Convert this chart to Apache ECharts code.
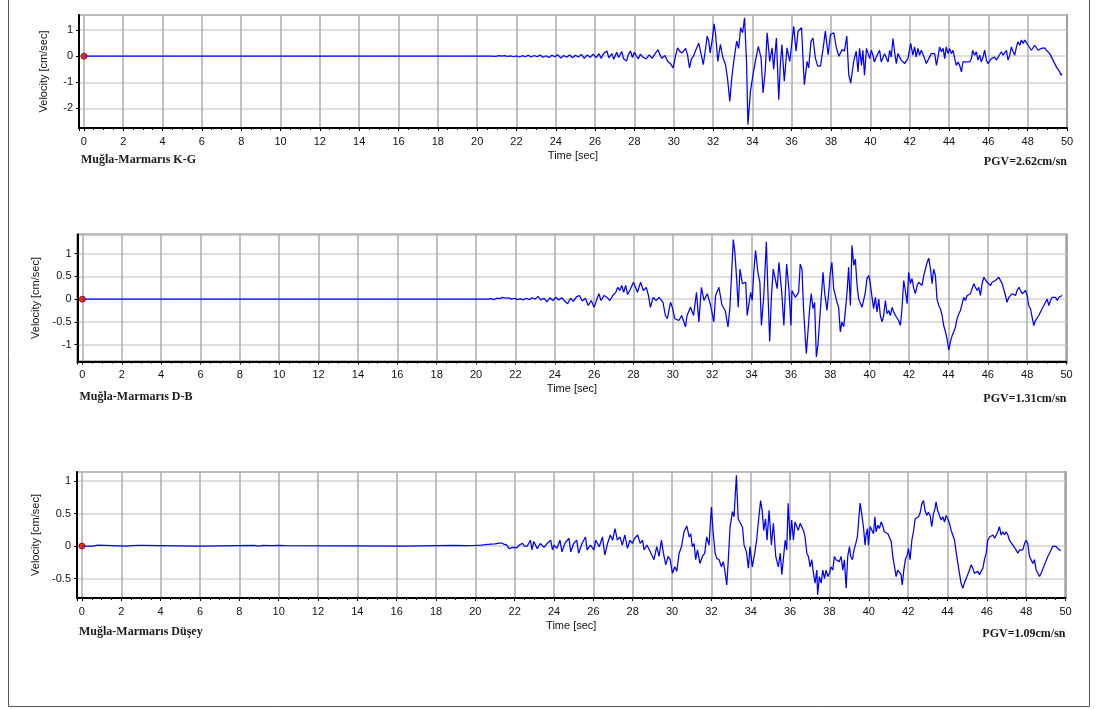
<!DOCTYPE html>
<html>
<head>
<meta charset="utf-8">
<title>Muğla-Marmarıs velocity records</title>
<script src="https://cdn.jsdelivr.net/npm/echarts@6/dist/echarts.min.js"></script>
<style>
  html, body { margin: 0; padding: 0; background: #ffffff; }
  #chart { width: 1097px; height: 709px; }
</style>
</head>
<body>
<div id="chart"></div>
<script>
// Station labels and peak ground velocities
const stationNames = ['Muğla-Marmarıs K-G', 'Muğla-Marmarıs D-B', 'Muğla-Marmarıs Düşey'];
const pgvLabels = ['PGV=2.62cm/sn', 'PGV=1.31cm/sn', 'PGV=1.09cm/sn'];
const xAxisTitle = 'Time [sec]';
const yAxisTitle = 'Velocity [cm/sec]';

// Velocity traces, [time (s), velocity (cm/s)]
const traceKG = [
  [0,0],[20.7,0],[20.8,0.01],[20.95,-0.01],[21.1,0.02],[21.25,0],[21.4,0.02],[21.55,-0.01],[21.7,0.01],[21.85,-0.02],
  [22.0,0.01],[22.15,-0.03],[22.3,0.02],[22.45,-0.02],[22.6,0.04],[22.75,-0.03],[22.9,0.03],[23.05,-0.02],[23.2,0.05],[23.35,-0.04],
  [23.5,0.02],[23.65,-0.05],[23.8,0.04],[23.95,-0.02],[24.1,0.06],[24.25,-0.07],[24.4,0.03],[24.55,-0.04],[24.7,0.05],[24.85,-0.06],
  [25.0,0.04],[25.15,-0.03],[25.3,0.07],[25.45,-0.08],[25.6,0.05],[25.75,-0.04],[25.9,0.08],[26.05,-0.05],[26.2,0.1],[26.3,-0.08],
  [26.45,0.12],[26.6,0.2],[26.7,-0.06],[26.85,0.1],[26.95,-0.12],[27.1,0.15],[27.2,-0.05],[27.35,0.18],[27.45,-0.1],[27.6,-0.18],
  [27.7,0.08],[27.8,0.2],[27.9,-0.05],[28.0,0.15],[28.1,0.02],[28.2,-0.1],[28.3,0.08],[28.45,-0.05],[28.6,-0.1],[28.75,0.05],
  [28.9,-0.08],[29.05,0.1],[29.2,0.25],[29.3,0.05],[29.4,-0.08],[29.55,0.03],[29.7,-0.2],[29.85,-0.3],[29.97,-0.45],[30.1,0.05],
  [30.2,0.32],[30.3,0.2],[30.4,0.12],[30.5,0.2],[30.6,0.3],[30.7,0.05],[30.8,-0.45],[30.9,-0.1],[31.0,0.0],[31.1,0.2],
  [31.27,0.5],[31.4,0.05],[31.5,-0.32],[31.6,0.2],[31.7,0.77],[31.78,0.58],[31.85,0.13],[31.95,0.6],[32.05,1.24],[32.12,0.9],
  [32.24,-0.2],[32.37,0.45],[32.5,-0.06],[32.63,-0.32],[32.73,-0.83],[32.85,-1.73],[32.95,-0.83],[33.05,-0.2],[33.2,0.58],[33.3,0.3],
  [33.4,1.09],[33.5,0.9],[33.6,1.47],[33.7,-0.2],[33.77,-2.62],[33.9,-1.35],[34.03,-0.7],[34.15,-0.2],[34.3,0.38],[34.44,-0.06],
  [34.54,-1.41],[34.65,-0.58],[34.75,0.9],[34.88,-0.2],[35.0,0.32],[35.08,-0.5],[35.22,0.7],[35.34,-1.67],[35.42,-0.32],[35.5,0.45],
  [35.62,-0.96],[35.76,0.32],[35.9,-0.2],[36.0,-0.26],[36.1,1.15],[36.22,0.19],[36.32,0.96],[36.5,1.09],[36.58,-0.2],[36.64,-1.09],
  [36.78,-0.2],[36.86,-0.45],[36.98,0.58],[37.08,0.7],[37.2,-0.06],[37.32,-0.38],[37.46,-0.38],[37.6,0.32],[37.71,0.96],[37.85,0.06],
  [37.97,0.83],[38.14,0.9],[38.27,0.32],[38.4,0.0],[38.56,0.26],[38.68,0.19],[38.8,0.77],[38.9,-0.71],[39.0,-1.03],[39.15,-0.2],
  [39.28,0.19],[39.37,-0.6],[39.45,0.3],[39.55,-0.35],[39.62,0.23],[39.7,-0.73],[39.8,0.3],[39.9,0.23],[39.97,-0.09],[40.05,0.23],
  [40.13,0.04],[40.2,-0.22],[40.3,-0.03],[40.38,-0.09],[40.47,0.23],[40.55,-0.22],[40.64,-0.15],[40.72,0.1],[40.8,0.17],[40.9,-0.22],
  [40.98,0.23],[41.06,-0.03],[41.15,0.68],[41.23,0.17],[41.32,-0.28],[41.4,0.1],[41.49,-0.03],[41.57,-0.15],[41.66,-0.09],[41.74,-0.28],
  [41.83,-0.22],[41.91,-0.09],[42.0,-0.15],[42.05,0.49],[42.16,0.04],[42.25,0.36],[42.33,-0.03],[42.42,0.3],[42.5,0.04],[42.59,0.23],
  [42.76,-0.09],[42.84,-0.28],[42.93,-0.15],[43.01,-0.09],[43.1,0.1],[43.18,0.04],[43.27,0.1],[43.36,-0.35],[43.44,-0.03],[43.52,0.36],
  [43.61,0.17],[43.7,0.3],[43.78,-0.09],[43.86,0.36],[43.95,0.1],[44.03,0.3],[44.12,0.1],[44.2,0.23],[44.29,-0.09],[44.37,-0.35],
  [44.46,-0.22],[44.54,-0.35],[44.63,-0.6],[44.71,-0.22],[44.8,-0.28],[44.88,-0.22],[44.97,-0.15],[45.05,-0.22],[45.14,-0.09],[45.2,0.23],
  [45.3,0.04],[45.39,0.17],[45.47,-0.15],[45.56,0.04],[45.64,-0.22],[45.73,-0.03],[45.81,0.23],[45.9,-0.15],[45.98,-0.28],[46.07,-0.22],
  [46.15,-0.09],[46.24,-0.15],[46.32,-0.03],[46.41,-0.15],[46.5,-0.03],[46.58,-0.09],[46.66,0.17],[46.75,0.04],[46.83,-0.03],[46.92,0.23],
  [47.0,-0.15],[47.09,0.04],[47.17,0.36],[47.26,0.17],[47.34,0.04],[47.43,0.36],[47.5,0.55],[47.6,0.42],[47.68,0.62],[47.77,0.49],
  [47.85,0.62],[47.93,0.65],[48.02,0.42],[48.1,0.49],[48.19,0.23],[48.27,0.3],[48.36,0.42],[48.44,0.36],[48.53,0.23],[48.61,0.17],
  [48.7,0.3],[48.78,0.36],[48.86,0.32],[48.95,0.23],[49.03,0.17],[49.12,0.1],[49.2,0.04],[49.29,-0.15],[49.37,-0.22],[49.46,-0.41],
  [49.54,-0.47],[49.63,-0.6],[49.7,-0.73],[49.75,-0.67]
];

const traceDB = [
  [0,0],[20.6,0],[20.75,0.01],[20.9,-0.01],[21.05,0.02],[21.2,0.01],[21.35,0.04],[21.5,0.02],[21.65,0.03],[21.8,0.0],
  [21.95,0.02],[22.1,-0.01],[22.25,0.01],[22.4,-0.02],[22.55,0.02],[22.7,-0.01],[22.85,0.03],[23.0,0.0],[23.15,0.06],[23.3,-0.02],
  [23.45,0.02],[23.6,-0.06],[23.75,0.03],[23.9,-0.03],[24.05,0.04],[24.2,-0.02],[24.35,0.03],[24.5,-0.04],[24.65,-0.1],[24.8,0.02],
  [24.95,-0.05],[25.1,0.05],[25.25,0.08],[25.4,-0.04],[25.55,0.02],[25.7,-0.14],[25.85,-0.03],[26.0,-0.18],[26.1,-0.05],[26.24,0.12],
  [26.35,-0.03],[26.5,0.08],[26.65,0.04],[26.8,-0.03],[26.95,0.08],[27.1,0.15],[27.2,0.26],[27.3,0.19],[27.4,0.3],[27.5,0.15],
  [27.6,0.3],[27.7,0.1],[27.82,0.2],[28.0,0.37],[28.1,0.26],[28.2,0.15],[28.36,0.37],[28.5,0.19],[28.65,0.26],[28.75,0.1],
  [28.86,-0.18],[29.0,0.04],[29.15,-0.03],[29.3,0.04],[29.5,-0.07],[29.62,-0.36],[29.72,-0.43],[29.88,-0.07],[29.97,-0.18],[30.1,-0.43],
  [30.3,-0.47],[30.45,-0.36],[30.64,-0.61],[30.72,-0.36],[30.9,-0.18],[31.05,-0.36],[31.2,0.15],[31.32,-0.5],[31.45,0.26],[31.58,-0.03],
  [31.75,0.12],[31.92,-0.14],[32.08,-0.5],[32.17,0.08],[32.34,0.26],[32.5,-0.14],[32.66,-0.25],[32.8,-0.61],[32.9,-0.18],[32.98,-0.14],
  [33.07,1.31],[33.15,1.03],[33.24,0.45],[33.32,-0.18],[33.41,0.66],[33.53,0.34],[33.7,0.37],[33.78,-0.36],[33.95,0.15],[34.03,-0.03],
  [34.11,0.59],[34.2,1.07],[34.32,0.59],[34.42,0.37],[34.5,-0.58],[34.62,0.08],[34.75,1.26],[34.83,0.15],[34.92,-0.93],[35.0,0.0],
  [35.1,0.66],[35.3,0.23],[35.39,0.81],[35.53,0.15],[35.64,-0.58],[35.78,0.77],[35.9,0.19],[36.0,-0.58],[36.05,0.19],[36.22,0.04],
  [36.39,0.15],[36.47,0.77],[36.56,0.66],[36.64,-0.21],[36.73,-0.87],[36.78,-1.2],[36.85,-0.8],[36.95,-0.21],[37.03,0.12],[37.12,-0.21],
  [37.2,-0.07],[37.29,-1.27],[37.37,-1.01],[37.46,-0.98],[37.54,0.04],[37.63,0.59],[37.71,0.15],[37.83,-0.25],[37.92,0.15],[38.0,0.59],
  [38.08,0.81],[38.17,0.23],[38.25,0.19],[38.34,-0.07],[38.42,-0.18],[38.51,-0.72],[38.59,-0.5],[38.68,-0.61],[38.76,-0.28],[38.85,0.15],
  [38.93,0.7],[39.02,-0.14],[39.1,1.18],[39.19,0.74],[39.27,0.88],[39.36,0.3],[39.44,0.0],[39.53,0.04],[39.61,-0.18],[39.69,-0.18],
  [39.78,0.15],[39.86,0.45],[39.95,0.52],[40.03,0.34],[40.12,0.04],[40.2,-0.21],[40.29,0.04],[40.37,-0.28],[40.46,0.0],[40.54,-0.36],
  [40.63,-0.5],[40.71,-0.36],[40.8,-0.03],[40.88,-0.32],[40.97,-0.25],[41.05,-0.36],[41.14,-0.18],[41.22,-0.28],[41.31,-0.36],[41.39,-0.39],
  [41.47,-0.47],[41.56,-0.58],[41.64,-0.21],[41.73,0.41],[41.81,0.19],[41.9,-0.1],[41.98,0.59],[42.07,0.34],[42.15,0.45],[42.24,0.23],
  [42.32,0.12],[42.41,0.3],[42.49,0.37],[42.58,0.41],[42.66,0.3],[42.75,0.52],[42.83,0.55],[42.92,0.81],[43.0,0.9],[43.09,0.66],
  [43.17,0.34],[43.25,0.66],[43.34,0.52],[43.42,0.0],[43.51,-0.14],[43.59,-0.21],[43.68,-0.36],[43.76,-0.58],[43.85,-0.72],[43.93,-0.87],
  [44.02,-1.12],[44.1,-0.94],[44.19,-0.8],[44.27,-0.72],[44.36,-0.61],[44.44,-0.43],[44.53,-0.32],[44.61,-0.25],[44.69,-0.28],[44.78,0.04],
  [44.86,-0.03],[44.95,0.08],[45.03,0.04],[45.12,0.12],[45.2,0.12],[45.29,0.34],[45.37,0.26],[45.46,0.19],[45.54,0.26],[45.63,0.08],
  [45.71,0.34],[45.8,0.48],[45.88,0.52],[45.97,0.37],[46.05,0.37],[46.14,0.3],[46.22,0.37],[46.31,0.34],[46.39,0.41],[46.47,0.41],
  [46.56,0.48],[46.64,0.45],[46.73,0.34],[46.81,0.3],[46.9,0.08],[46.98,-0.07],[47.07,0.04],[47.15,0.0],[47.24,0.12],[47.32,0.08],
  [47.41,0.08],[47.49,0.19],[47.58,0.26],[47.66,0.19],[47.75,0.12],[47.83,0.15],[47.92,0.19],[48.0,0.08],[48.08,-0.14],[48.17,-0.21],
  [48.25,-0.39],[48.34,-0.58],[48.42,-0.47],[48.51,-0.43],[48.59,-0.36],[48.68,-0.32],[48.76,-0.21],[48.85,-0.14],[48.93,-0.07],[49.02,0.0],
  [49.1,-0.14],[49.19,-0.03],[49.27,0.04],[49.36,0.0],[49.44,0.04],[49.53,-0.03],[49.61,0.04],[49.69,0.04],[49.78,0.08]
];

const traceUD = [
  [0,0],[0.55,0],[0.6,0.015],[0.8,0.015],[0.85,0],[2.3,0],[2.35,0.012],[2.5,0.005],[2.6,0.015],[2.9,0.01],
  [3.05,0.012],[3.1,0],[5.85,0],[5.9,-0.01],[6.0,0],[6.1,0.01],[8.75,0.012],[8.8,-0.005],[9.0,0],[9.2,0.01],
  [9.6,0.005],[10.0,0.01],[10.3,0.005],[10.4,0],[16.5,0],[16.6,0.01],[18.0,0.008],[18.9,0.012],[19.5,0.005],[20.0,0.01],
  [20.3,0.015],[20.5,0.02],[20.8,0.03],[21.0,0.035],[21.3,0.05],[21.45,0.03],[21.6,0.015],[21.7,-0.04],[21.8,-0.06],[21.9,-0.02],
  [22.0,0.0],[22.1,-0.03],[22.25,0.02],[22.4,0.04],[22.5,0.0],[22.64,0.0],[22.8,0.09],[22.88,-0.06],[22.97,0.07],[23.15,-0.04],
  [23.3,0.04],[23.5,-0.02],[23.65,0.04],[23.83,0.09],[23.92,-0.06],[24.0,0.015],[24.15,-0.035],[24.3,0.09],[24.4,-0.09],[24.55,0.04],
  [24.76,0.12],[24.85,-0.09],[25.0,0.04],[25.15,0.09],[25.25,-0.11],[25.42,0.04],[25.6,0.14],[25.68,-0.06],[25.85,0.015],[26.03,-0.06],
  [26.12,0.09],[26.3,-0.01],[26.46,0.14],[26.58,-0.14],[26.72,0.04],[26.86,0.17],[26.98,0.09],[27.1,0.27],[27.22,0.09],[27.35,0.14],
  [27.47,0.015],[27.6,0.17],[27.73,-0.035],[27.86,0.09],[27.98,0.04],[28.1,0.12],[28.25,0.17],[28.38,0.04],[28.5,0.09],[28.58,-0.06],
  [28.72,0.015],[28.85,-0.06],[28.95,-0.035],[29.08,-0.21],[29.22,-0.01],[29.34,-0.16],[29.46,0.09],[29.56,-0.11],[29.68,-0.29],[29.8,-0.16],
  [29.9,-0.21],[30.02,-0.42],[30.14,-0.32],[30.24,-0.39],[30.36,-0.11],[30.48,-0.01],[30.61,0.22],[30.75,0.31],[30.87,0.14],[30.95,0.19],
  [31.03,-0.01],[31.12,0.04],[31.2,-0.21],[31.29,-0.06],[31.42,-0.27],[31.54,-0.16],[31.66,-0.11],[31.76,0.14],[31.88,0.015],[32.0,0.6],
  [32.08,0.24],[32.19,-0.11],[32.27,-0.19],[32.39,-0.21],[32.51,-0.32],[32.6,-0.24],[32.68,-0.37],[32.78,-0.6],[32.86,-0.21],[32.95,0.3],
  [33.07,0.53],[33.15,0.45],[33.27,1.09],[33.36,0.42],[33.46,0.4],[33.58,0.29],[33.66,0.015],[33.78,-0.09],[33.88,-0.34],[33.96,-0.01],
  [34.08,-0.32],[34.2,-0.11],[34.3,0.09],[34.38,0.35],[34.5,0.7],[34.58,0.55],[34.66,0.24],[34.75,0.42],[34.83,0.09],[34.93,0.55],
  [35.05,0.015],[35.15,0.35],[35.27,-0.16],[35.4,-0.32],[35.5,-0.11],[35.58,-0.44],[35.67,-0.16],[35.75,0.09],[35.83,-0.06],[35.9,0.66],
  [36.0,0.09],[36.08,0.4],[36.17,0.09],[36.25,0.37],[36.34,0.4],[36.42,0.24],[36.51,0.35],[36.6,0.32],[36.68,0.24],[36.76,0.14],
  [36.85,-0.11],[36.93,-0.16],[37.02,-0.32],[37.1,-0.21],[37.19,-0.42],[37.27,-0.57],[37.36,-0.37],[37.4,-0.75],[37.49,-0.47],[37.58,-0.57],
  [37.66,-0.37],[37.75,-0.5],[37.83,-0.37],[37.92,-0.47],[38.0,-0.42],[38.08,-0.32],[38.17,-0.37],[38.25,-0.16],[38.34,-0.21],[38.42,-0.19],
  [38.5,-0.24],[38.59,-0.16],[38.68,-0.37],[38.76,-0.21],[38.85,-0.65],[38.93,-0.16],[39.02,-0.01],[39.08,-0.16],[39.17,-0.21],[39.25,-0.06],
  [39.34,0.04],[39.42,0.14],[39.5,0.45],[39.56,0.66],[39.64,0.5],[39.73,0.29],[39.81,0.015],[39.86,0.17],[39.93,0.27],[39.98,0.015],
  [40.07,0.3],[40.15,0.27],[40.24,0.19],[40.31,0.45],[40.37,0.22],[40.46,0.32],[40.54,0.27],[40.63,0.37],[40.7,0.32],[40.79,0.22],
  [40.88,0.19],[40.97,0.19],[41.05,0.17],[41.14,0.07],[41.22,-0.16],[41.31,-0.32],[41.39,-0.47],[41.47,-0.37],[41.56,-0.34],[41.64,-0.44],
  [41.7,-0.6],[41.78,-0.37],[41.86,-0.21],[41.95,-0.14],[42.02,-0.04],[42.1,-0.21],[42.19,0.09],[42.27,0.22],[42.36,0.42],[42.44,0.4],
  [42.53,0.45],[42.6,0.5],[42.7,0.65],[42.78,0.7],[42.86,0.55],[42.95,0.47],[43.03,0.52],[43.12,0.47],[43.2,0.3],[43.29,0.5],
  [43.37,0.58],[43.42,0.68],[43.5,0.55],[43.59,0.47],[43.68,0.4],[43.76,0.45],[43.85,0.37],[43.93,0.47],[44.02,0.42],[44.1,0.35],
  [44.19,0.24],[44.27,0.17],[44.36,0.09],[44.44,-0.09],[44.53,-0.27],[44.61,-0.42],[44.69,-0.57],[44.78,-0.65],[44.86,-0.57],[44.95,-0.5],
  [45.03,-0.44],[45.12,-0.37],[45.2,-0.29],[45.29,-0.34],[45.37,-0.42],[45.46,-0.44],[45.54,-0.39],[45.63,-0.44],[45.71,-0.39],[45.8,-0.34],
  [45.88,-0.21],[45.97,-0.11],[46.05,0.09],[46.14,0.14],[46.22,0.12],[46.31,0.17],[46.4,0.12],[46.48,0.14],[46.56,0.22],[46.64,0.3],
  [46.73,0.17],[46.81,0.22],[46.9,0.17],[46.98,0.22],[47.07,0.17],[47.15,0.09],[47.24,0.07],[47.32,0.015],[47.41,-0.01],[47.49,-0.06],
  [47.58,-0.11],[47.66,-0.06],[47.75,-0.09],[47.83,-0.06],[47.92,0.04],[48.0,0.09],[48.08,0.04],[48.17,-0.16],[48.25,-0.21],[48.34,-0.27],
  [48.42,-0.21],[48.51,-0.37],[48.59,-0.42],[48.68,-0.47],[48.76,-0.42],[48.85,-0.44],[48.93,-0.29],[49.02,-0.32],[49.1,-0.16],[49.19,-0.16],
  [49.27,-0.06],[49.36,0.0],[49.44,0.015],[49.53,-0.01],[49.61,-0.04],[49.69,-0.06],[49.76,-0.07]
];

const traces = [traceKG, traceDB, traceUD];
// Start marker of each record
const startPoint = [0, 0];

// Axis extents of each panel
const timeRange = [-0.25, 50];
const velocityRanges = [[-2.75, 1.58], [-1.37, 1.42], [-0.8, 1.14]];
const velocitySplits = [4, 5, 4];

// Panel boxes in pixels
const panelBoxes = [
  { left: 79,   right: 30,   top: 15,    height: 113 },
  { left: 77.5, right: 30.5, top: 234.5, height: 127 },
  { left: 77,   right: 31.5, top: 472,   height: 126 }
];
const titleTops = [154, 391, 626];

const sansFont = 'Liberation Sans, Arial, sans-serif';
const serifFont = 'Liberation Serif, Times New Roman, serif';

const grids = [], xAxes = [], yAxes = [], series = [], titles = [];

panelBoxes.forEach((box, i) => {
  grids.push({
    left: box.left, right: box.right, top: box.top, height: box.height,
    show: true, backgroundColor: '#ffffff', borderColor: '#7d7d7d', borderWidth: 2
  });
  xAxes.push({
    gridIndex: i, type: 'value', min: timeRange[0], max: timeRange[1], splitNumber: 25,
    name: xAxisTitle, nameLocation: 'middle', nameGap: 22,
    nameTextStyle: { fontFamily: sansFont, fontSize: 11, color: '#111' },
    axisLine: { show: true, onZero: false, lineStyle: { color: '#000', width: 2 } },
    axisTick: { show: true, length: 3, lineStyle: { color: '#000', width: 1 } },
    minorTick: { show: true, splitNumber: 4, length: 2, lineStyle: { color: '#000', width: 1 } },
    axisLabel: { showMinLabel: false, margin: 8, fontFamily: sansFont, fontSize: 11, color: '#111' },
    splitLine: { show: true, lineStyle: { color: '#ababab', width: 1.5 } }
  });
  yAxes.push({
    gridIndex: i, type: 'value', min: velocityRanges[i][0], max: velocityRanges[i][1],
    splitNumber: velocitySplits[i],
    name: yAxisTitle, nameLocation: 'middle', nameGap: 30, nameRotate: 90,
    nameTextStyle: { fontFamily: sansFont, fontSize: 11, color: '#111' },
    axisLine: { show: true, onZero: false, lineStyle: { color: '#000', width: 2 } },
    axisTick: { show: true, length: 3, lineStyle: { color: '#000', width: 1 } },
    axisLabel: { showMinLabel: false, showMaxLabel: false, margin: 6, fontFamily: sansFont, fontSize: 11, color: '#111' },
    splitLine: { show: true, lineStyle: { color: '#d2d2d2', width: 1.5 } }
  });
  series.push({
    type: 'line', xAxisIndex: i, yAxisIndex: i, data: traces[i],
    showSymbol: false, symbol: 'none', sampling: null, animation: false,
    lineStyle: { color: '#0000ff', width: 1.25 }, z: 3
  });
  series.push({
    type: 'scatter', xAxisIndex: i, yAxisIndex: i, data: [startPoint],
    symbolSize: 6, animation: false, z: 4,
    itemStyle: { color: '#ee0000', borderColor: '#7a0000', borderWidth: 1 }
  });
  titles.push({
    text: stationNames[i], left: box.left + 2, top: titleTops[i], padding: 0,
    textStyle: { fontFamily: serifFont, fontWeight: 'bold', fontSize: 12, color: '#1a1a1a' }
  });
  titles.push({
    text: pgvLabels[i], right: box.right, top: titleTops[i] + 2, padding: 0,
    textStyle: { fontFamily: serifFont, fontWeight: 'bold', fontSize: 12, color: '#1a1a1a' }
  });
});

const chart = echarts.init(document.getElementById('chart'), null, { renderer: 'canvas' });
chart.setOption({
  animation: false,
  backgroundColor: '#ffffff',
  title: titles,
  grid: grids,
  xAxis: xAxes,
  yAxis: yAxes,
  series: series,
  graphic: [{
    type: 'rect', silent: true, z: -10,
    shape: { x: 8.5, y: -2, width: 1081, height: 708.5 },
    style: { fill: 'none', stroke: '#555555', lineWidth: 1 }
  }]
});
</script>
</body>
</html>
